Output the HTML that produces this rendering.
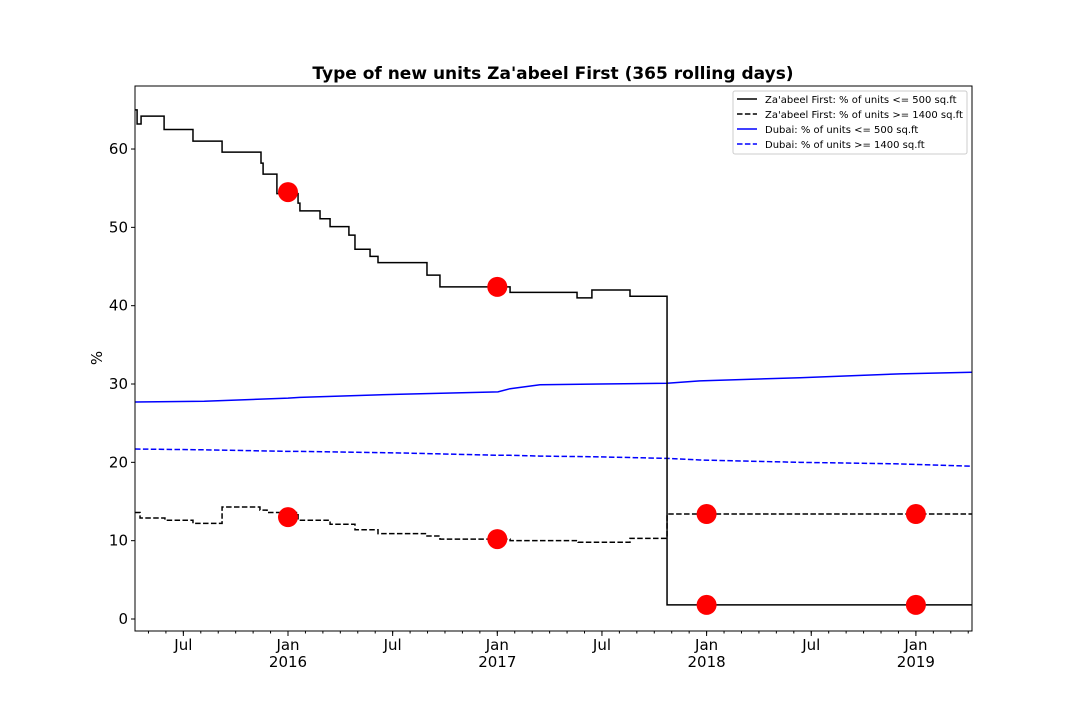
<!DOCTYPE html>
<html><head><meta charset="utf-8"><style>
body{margin:0;background:#fff;}
svg text{font-family:"DejaVu Sans","Liberation Sans",sans-serif;}
</style></head><body>
<svg id="chart" width="1080" height="720" xmlns="http://www.w3.org/2000/svg">
<rect width="1080" height="720" fill="#fff"/>
<text x="553" y="79" text-anchor="middle" font-size="17" font-weight="bold">Type of new units Za'abeel First (365 rolling days)</text>
<text transform="translate(102,358) rotate(-90)" text-anchor="middle" font-size="15">%</text>
<g id="plot"></g>
<rect x="135" y="86" width="837" height="545" fill="none" stroke="#000" stroke-width="1"/>
<g>
<rect x="733" y="91" width="234" height="63" fill="#fff" stroke="#ccc" rx="2"/>
<g><line x1="737" x2="757" y1="99" y2="99" stroke="#000" stroke-width="1.5"/><text x="765" y="103" font-size="10">Za'abeel First: % of units &lt;= 500 sq.ft</text></g>
<g><line x1="737" x2="757" y1="114" y2="114" stroke="#000" stroke-width="1.5" stroke-dasharray="5.5,2.4"/><text x="765" y="118" font-size="10">Za'abeel First: % of units &gt;= 1400 sq.ft</text></g>
<g><line x1="737" x2="757" y1="129" y2="129" stroke="#00f" stroke-width="1.5"/><text x="765" y="133" font-size="10">Dubai: % of units &lt;= 500 sq.ft</text></g>
<g><line x1="737" x2="757" y1="144" y2="144" stroke="#00f" stroke-width="1.5" stroke-dasharray="5.5,2.4"/><text x="765" y="148" font-size="10">Dubai: % of units &gt;= 1400 sq.ft</text></g>
</g>
</svg>
<script>
const yTicks=[0,10,20,30,40,50,60];
const zSmallT=[2015.269,2015.279,2015.298,2015.408,2015.546,2015.685,2015.871,2015.881,2015.947,2016.048,2016.057,2016.153,2016.201,2016.291,2016.320,2016.392,2016.430,2016.664,2016.726,2017.061,2017.381,2017.452,2017.634,2017.811,2019.268];
const zSmallV=[65.0,63.2,64.2,62.5,61.0,59.6,58.2,56.8,54.3,53.1,52.1,51.1,50.1,49.0,47.2,46.3,45.5,43.9,42.4,41.7,41.0,42.0,41.2,1.8,1.8];
const zLargeT=[2015.269,2015.293,2015.412,2015.546,2015.685,2015.866,2015.900,2016.048,2016.201,2016.320,2016.430,2016.664,2016.726,2017.061,2017.386,2017.634,2017.811,2019.268];
const zLargeV=[13.6,12.9,12.6,12.2,14.3,13.9,13.6,12.6,12.1,11.4,10.9,10.6,10.2,10.0,9.8,10.3,13.4,13.4];
const dubT=[2015.269,2015.6,2016.0,2016.057,2016.535,2017.003,2017.061,2017.204,2017.491,2017.811,2017.968,2018.446,2018.924,2019.268];
const dubSmallV=[27.7,27.8,28.2,28.3,28.7,29.0,29.4,29.9,30.0,30.1,30.4,30.8,31.3,31.5];
const dubLargeV=[21.7,21.6,21.4,21.4,21.2,20.9,20.9,20.8,20.7,20.5,20.3,20.0,19.8,19.5];
const markT=[2016,2016,2017,2017,2018,2018,2019,2019];
const markV=[54.5,13.0,42.4,10.2,13.4,1.8,13.4,1.8];
const xMajor=[[2015.5,"Jul",""],[2016,"Jan","2016"],[2016.5,"Jul",""],[2017,"Jan","2017"],[2017.5,"Jul",""],[2018,"Jan","2018"],[2018.5,"Jul",""],[2019,"Jan","2019"]];

const NS="http://www.w3.org/2000/svg";
const X=t=>288+(t-2016)*209.3;
const Y=v=>619-v*7.833;
const g=document.getElementById('plot');
function mk(tag,attrs){const e=document.createElementNS(NS,tag);for(const k in attrs)e.setAttribute(k,attrs[k]);g.appendChild(e);return e;}
yTicks.forEach(v=>{
 const l=mk('line',{x1:131,x2:135,y1:Y(v),y2:Y(v),stroke:'#000'});
 
 
 const t=mk('text',{x:128,y:Y(v)+5,'text-anchor':'end','font-size':15});
 t.textContent=v;
 
 
});
for(let m=4;m<=52;m++){
 const t=2015+(m-1)/12; if(t<2015.269||t>2019.268)continue;
 const l=mk('line',{x1:X(t),x2:X(t),y1:631,y2:633.5,stroke:'#000'});
 
 
}
xMajor.forEach(([t,a,b])=>{
 const l=mk('line',{x1:X(t),x2:X(t),y1:631,y2:636,stroke:'#000'});
 
 
 const tx=mk('text',{x:X(t),y:650,'text-anchor':'middle','font-size':15});
 tx.textContent=a;
 
 
 if(b){const ty=mk('text',{x:X(t),y:667,'text-anchor':'middle','font-size':15});ty.textContent=b;
 
 }
});
function stepPath(T,V){let d='M'+X(T[0])+','+Y(V[0]);for(let i=1;i<T.length;i++){d+=' H'+X(T[i])+' V'+Y(V[i]);}return d;}
function linePath(T,V){return T.map((t,i)=>(i?'L':'M')+X(t)+','+Y(V[i])).join(' ');}
let p;
p=mk('path',{d:linePath(dubT,dubSmallV),fill:'none',stroke:'#00f','stroke-width':1.5});


p=mk('path',{d:linePath(dubT,dubLargeV),fill:'none',stroke:'#00f','stroke-width':1.5,'stroke-dasharray':'5.5,2.4'});


p=mk('path',{d:stepPath(zSmallT,zSmallV),fill:'none',stroke:'#000','stroke-width':1.5});


p=mk('path',{d:stepPath(zLargeT,zLargeV),fill:'none',stroke:'#000','stroke-width':1.5,'stroke-dasharray':'5.5,2.4'});


markT.forEach((t,i)=>{
 const c=mk('circle',{cx:X(t),cy:Y(markV[i]),r:10,fill:'#f00'});
 
 
});
</script>
</body></html>
